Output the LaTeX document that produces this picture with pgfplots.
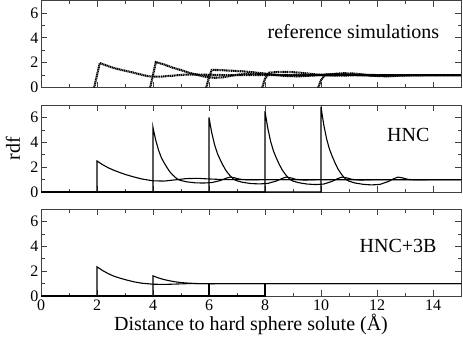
\documentclass[border=0pt]{standalone}
\usepackage{pgfplots}
\pgfplotsset{compat=1.18}
\usepackage{fontspec}
\setmainfont{Liberation Serif}

\pgfplotsset{
  rdfpanel/.style={
    scale only axis, width=420pt, height=87pt,
    xmin=0, xmax=15, ymin=0, ymax=7,
    xtick={0,2,...,14}, minor xtick={1,3,...,15},
    ytick={0,2,4,6}, minor ytick={1,3,5},
    yticklabels={0,2,4,6},
    tick align=inside, major tick length=6pt, minor tick length=3.5pt,
    axis line style={black!75, line width=0.8pt},
    every tick/.style={black!75, line width=0.7pt},
    tick label style={font=\rmfamily\fontsize{16}{16}\selectfont},
    yticklabel style={xshift=1pt},
    clip=true,
  },
  hnc/.style={black, line width=1.1pt},
  refsim/.style={black, line width=2.1pt, dash pattern=on 1.2pt off 0.6pt},
}

\begin{document}
\begin{tikzpicture}
% --- reference simulations
\begin{axis}[rdfpanel, at={(0,0)}, anchor=north west, xticklabels={}]
\addplot[refsim] coordinates {(1.9,0) (2.0,1.0) (2.1,1.97) (2.3,1.8) (2.6,1.57) (2.9,1.4) (3.2,1.25) (3.5,1.08) (3.8,0.92) (4.0,0.88) (4.3,0.88) (4.7,0.95) (5.1,1.03) (5.5,1.05) (6,1.02) (6.5,1.0) (7,1.0) (8,1.0) (9,1.0) (10,1.0) (11,1.02) (12,0.98) (13,1.0) (14,1.0) (15,1.0)};
\addplot[refsim] coordinates {(3.9,0) (4.0,1.0) (4.1,2.05) (4.4,1.85) (4.7,1.6) (5.0,1.4) (5.3,1.18) (5.6,1.0) (5.9,0.85) (6.2,0.78) (6.5,0.82) (6.8,0.95) (7.1,1.05) (7.5,1.1) (8,1.05) (8.5,1.0) (9,0.98) (10,1.0) (11,1.02) (12,0.98) (13,1.0) (15,1.0)};
\addplot[refsim] coordinates {(5.9,0) (6.0,0.8) (6.1,1.42) (6.4,1.4) (6.8,1.35) (7.2,1.3) (7.6,1.22) (8.0,1.12) (8.4,1.0) (8.8,0.92) (9.2,0.9) (9.6,0.95) (10,1.02) (10.5,1.08) (11,1.05) (11.5,0.98) (12,0.95) (12.5,0.98) (13,1.0) (15,1.0)};
\addplot[refsim] coordinates {(7.9,0) (8.0,0.7) (8.15,1.2) (8.5,1.25) (8.9,1.25) (9.3,1.18) (9.7,1.08) (10.1,1.0) (10.5,0.95) (11,0.97) (11.5,1.02) (12,1.0) (13,0.97) (14,1.0) (15,1.0)};
\addplot[refsim] coordinates {(9.9,0) (10.0,0.6) (10.15,1.02) (10.4,1.08) (10.8,1.15) (11.2,1.12) (11.6,1.02) (12.0,0.92) (12.4,0.9) (12.8,0.95) (13.3,1.0) (14,1.0) (15,1.0)};
\node[anchor=east, font=\fontsize{20}{20}\selectfont] at (axis cs:14.35,4.5) {reference simulations};
\end{axis}

% --- HNC
\begin{axis}[rdfpanel, at={(0,-104.5pt)}, anchor=north west, xticklabels={}]
\addplot[hnc] coordinates {(0,0) (2,0) (2,2.5) (2.2,2.2) (2.4,1.95) (2.6,1.75) (2.8,1.58) (3.0,1.42) (3.3,1.22) (3.6,1.05) (4.0,0.9) (4.4,0.88) (4.8,0.98) (5.2,1.08) (5.6,1.1) (6.0,1.05) (6.5,1.0) (7,0.99) (8,1.0) (15,1.0)};
\addplot[hnc] coordinates {(0,0) (4,0) (4,5.2) (4.05,4.65) (4.1,4.15) (4.2,3.35) (4.3,2.76) (4.4,2.34) (4.5,1.97) (4.6,1.63) (4.7,1.38) (4.8,1.17) (4.9,1.0) (5.0,0.92) (5.2,0.82) (5.5,0.74) (5.8,0.72) (6.1,0.76) (6.4,0.92) (6.6,1.1) (6.75,1.2) (6.9,1.15) (7.1,1.03) (7.4,0.97) (7.8,0.99) (8.5,1.0) (15,1.0)};
\addplot[hnc] coordinates {(0,0) (6,0) (6,6.0) (6.05,5.35) (6.1,4.75) (6.2,3.8) (6.3,3.1) (6.4,2.6) (6.5,2.15) (6.6,1.75) (6.7,1.45) (6.8,1.2) (6.9,1.0) (7.0,0.9) (7.2,0.78) (7.5,0.68) (7.8,0.65) (8.1,0.69) (8.4,0.88) (8.6,1.08) (8.75,1.2) (8.9,1.15) (9.1,1.02) (9.4,0.96) (9.8,0.99) (10.5,1.0) (15,1.0)};
\addplot[hnc] coordinates {(0,0) (8,0) (8,6.5) (8.05,5.8) (8.1,5.13) (8.2,4.08) (8.3,3.31) (8.4,2.76) (8.5,2.27) (8.6,1.83) (8.7,1.5) (8.8,1.22) (8.9,1.0) (9.0,0.88) (9.2,0.75) (9.5,0.64) (9.8,0.6) (10.1,0.64) (10.4,0.86) (10.6,1.08) (10.75,1.2) (10.9,1.15) (11.1,1.02) (11.4,0.96) (11.8,0.99) (12.5,1.0) (15,1.0)};
\addplot[hnc] coordinates {(0,0) (10,0) (10,6.85) (10.05,6.1) (10.1,5.39) (10.2,4.28) (10.3,3.46) (10.4,2.87) (10.5,2.35) (10.6,1.88) (10.7,1.53) (10.8,1.23) (10.9,1.0) (11.0,0.87) (11.2,0.73) (11.5,0.62) (11.8,0.57) (12.1,0.61) (12.4,0.84) (12.6,1.07) (12.75,1.2) (12.9,1.14) (13.1,1.02) (13.4,0.97) (13.8,0.99) (14.5,1.0) (15,1.0)};
\node[anchor=east, font=\fontsize{20}{20}\selectfont] at (axis cs:14.0,4.6) {HNC};
\end{axis}
\node[rotate=90, font=\fontsize{20}{20}\selectfont] at (-28pt,-148pt) {rdf};

% --- HNC+3B
\begin{axis}[rdfpanel, at={(0,-208.5pt)}, anchor=north west,
  xticklabels={0,2,4,6,8,10,12,14},
  xlabel={Distance to hard sphere solute (Å)},
  xlabel style={font=\fontsize{20}{20}\selectfont, yshift=3pt}]
\addplot[hnc] coordinates {(0,0) (2,0) (2,2.35) (2.2,2.05) (2.4,1.8) (2.6,1.6) (2.8,1.45) (3.0,1.32) (3.3,1.15) (3.6,1.03) (4.0,0.95) (4.4,0.93) (4.8,0.96) (5.3,1.0) (6,1.0) (15,1.0)};
\addplot[hnc] coordinates {(0,0) (4,0) (4,1.62) (4.2,1.45) (4.4,1.32) (4.6,1.22) (4.8,1.14) (5.0,1.08) (5.3,1.03) (5.6,1.0) (6,0.99) (15,1.0)};
\addplot[hnc] coordinates {(0,0) (6,0) (6,1.0) (6.3,1.0) (15,1.0)};
\addplot[hnc] coordinates {(0,0) (8,0) (8,1.0) (15,1.0)};
\node[anchor=east, font=\fontsize{20}{20}\selectfont] at (axis cs:14.25,4.0) {HNC+3B};
\end{axis}

\pgfresetboundingbox
\path[use as bounding box] (-41pt,-340.5pt) rectangle (422pt,0.5pt);
\end{tikzpicture}
\end{document}
